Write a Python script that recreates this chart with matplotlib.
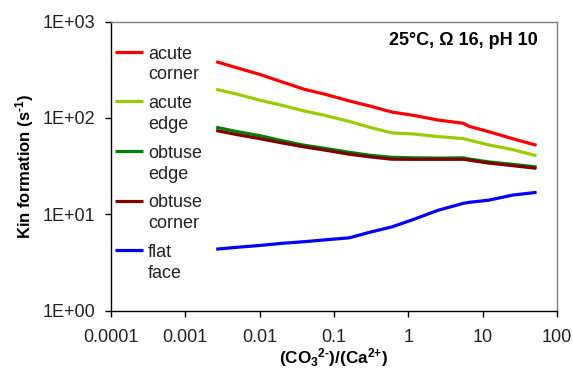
import matplotlib
matplotlib.use("Agg")
import matplotlib.pyplot as plt
from matplotlib.legend_handler import HandlerLine2D

plt.rcParams['font.family'] = ['Liberation Sans', 'DejaVu Sans']
plt.rcParams['mathtext.fontset'] = 'custom'
plt.rcParams['mathtext.rm'] = 'Liberation Sans:bold'
plt.rcParams['mathtext.bf'] = 'Liberation Sans:bold'
plt.rcParams['mathtext.it'] = 'Liberation Sans:bold'

ratio = [0.0026, 0.005, 0.01, 0.02, 0.04, 0.08, 0.16, 0.3, 0.6, 1.2, 2.5, 5.5, 6.5, 12, 25, 53]
acute_corner = [383, 330, 283, 236, 198, 174, 150, 133, 115, 106, 95, 88, 82, 72, 61, 52]
acute_edge = [198, 176, 153, 135, 118, 105, 92, 80, 70, 68, 64, 61, 59, 52.5, 47, 40.5]
obtuse_edge = [80, 72, 65.5, 58, 52, 48, 44, 41, 39, 38.5, 38.3, 38.5, 37.5, 35, 33, 31]
obtuse_corner = [74, 67, 61, 55, 50, 46, 42, 39.5, 37.3, 37.2, 37.2, 37.2, 36.5, 34, 32, 30]
flat_face = [4.35, 4.55, 4.75, 5.0, 5.2, 5.45, 5.7, 6.5, 7.4, 8.9, 11.0, 13.0, 13.3, 14.0, 15.8, 16.9]

series = [
    ("acute\ncorner", acute_corner, "#ff0000"),
    ("acute\nedge", acute_edge, "#99cc00"),
    ("obtuse\nedge", obtuse_edge, "#008000"),
    ("obtuse\ncorner", obtuse_corner, "#800000"),
    ("flat\nface", flat_face, "#0000ff"),
]

xticks = [0.0001, 0.001, 0.01, 0.1, 1, 10, 100]
xticklabels = ["0.0001", "0.001", "0.01", "0.1", "1", "10", "100"]
yticks = [1, 10, 100, 1000]
yticklabels = ["1E+00", "1E+01", "1E+02", "1E+03"]

fig = plt.figure(figsize=(5.73, 3.69), dpi=100)
ax = fig.add_axes([0.1937, 0.158, 0.9721 - 0.1937, 0.9417 - 0.158])

for label, vals, color in series:
    ax.plot(ratio, vals, color=color, lw=2.3, label=label, solid_capstyle='butt')

ax.set_xscale('log')
ax.set_yscale('log')
ax.set_xlim(0.0001, 100)
ax.set_ylim(1, 1000)
ax.set_xticks(xticks)
ax.set_xticklabels(xticklabels)
ax.set_yticks(yticks)
ax.set_yticklabels(yticklabels)
ax.minorticks_off()
ax.tick_params(axis='both', which='major', direction='out', length=4, width=1,
               labelsize=13, colors='black', labelcolor='#222222')
ax.tick_params(axis='y', pad=7)
ax.tick_params(axis='x', pad=9.5)

for s in ['left', 'bottom']:
    ax.spines[s].set_color('black')
    ax.spines[s].set_linewidth(1)
for s in ['top', 'right']:
    ax.spines[s].set_color('#7f7f7f')
    ax.spines[s].set_linewidth(1)

ax.set_xlabel(r"(CO$_{3}$$^{\text{2-}}$)/(Ca$^{\text{2+}}$)", fontsize=12.3,
              fontweight='bold', labelpad=-0.5)
ax.set_ylabel(r"Kin formation (s$^{\text{-1}}$)", fontsize=12, fontweight='bold', labelpad=5)

ax.text(0.957, 0.936, "25°C, Ω 16, pH 10", transform=ax.transAxes, ha='right', va='center',
        fontsize=13, fontweight='bold')


class ShiftedHandler(HandlerLine2D):
    def create_artists(self, legend, orig_handle, xdescent, ydescent, width, height,
                       fontsize, trans):
        arts = super().create_artists(legend, orig_handle, xdescent, ydescent, width,
                                      height, fontsize, trans)
        for a in arts:
            yd = a.get_ydata()
            a.set_ydata([y + 0.72 * fontsize for y in yd])
        return arts


leg = ax.legend(loc='upper left', frameon=False, fontsize=13, handlelength=1.55,
                handletextpad=0.3, labelspacing=0.65, borderaxespad=0.0,
                bbox_to_anchor=(-0.008, 0.942),
                handler_map={matplotlib.lines.Line2D: ShiftedHandler()})
for t in leg.get_texts():
    t.set_linespacing(1.3)
    t.set_color('#222222')

fig.savefig("out.png", dpi=100)
